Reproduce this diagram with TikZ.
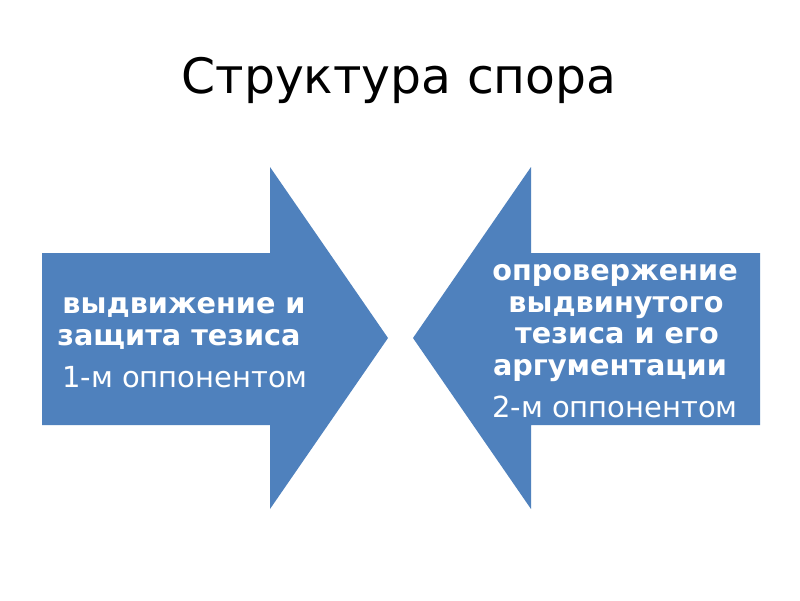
\documentclass[tikz,border=0pt]{standalone}
\usepackage{fontspec}
\setmainfont{DejaVu Sans}
\definecolor{arrowblue}{HTML}{4F81BD}
\begin{document}
\begin{tikzpicture}[x=1pt,y=-1pt,
  arrowshape/.style={fill=arrowblue,draw=none},
  boldline/.style={text=white,anchor=base,inner sep=0pt,font=\fontsize{28.7}{32}\selectfont\bfseries},
  regline/.style={text=white,anchor=base,inner sep=0pt,font=\fontsize{29}{32}\selectfont},
  titletext/.style={text=black,anchor=base,inner sep=0pt,font=\fontsize{48.8}{58}\selectfont}]
\useasboundingbox[fill=white] (0,0) rectangle (800,600);
% title
\node[titletext] (title) at (399,93) {Структура спора};
% left arrow
\path[arrowshape] (42,253) -- (270,253) -- (270,167) -- (388,338) -- (270,509) -- (270,425) -- (42,425) -- cycle;
% right arrow
\path[arrowshape] (760,253) -- (531,253) -- (531,167) -- (413,338) -- (531,509) -- (531,425) -- (760,425) -- cycle;
% left texts
\node[boldline] (l1) at (184,313) {выдвижение и};
\node[boldline] (l2) at (179,345) {защита тезиса};
\node[regline] (l3) at (185,387) {1-м оппонентом};
% right texts
\node[boldline] (r1) at (615,280) {опровержение};
\node[boldline] (r2) at (616,312) {выдвинутого};
\node[boldline] (r3) at (617,343) {тезиса и его};
\node[boldline] (r4) at (610,375) {аргументации};
\node[regline] (r5) at (615,417) {2-м оппонентом};
\end{tikzpicture}
\end{document}
